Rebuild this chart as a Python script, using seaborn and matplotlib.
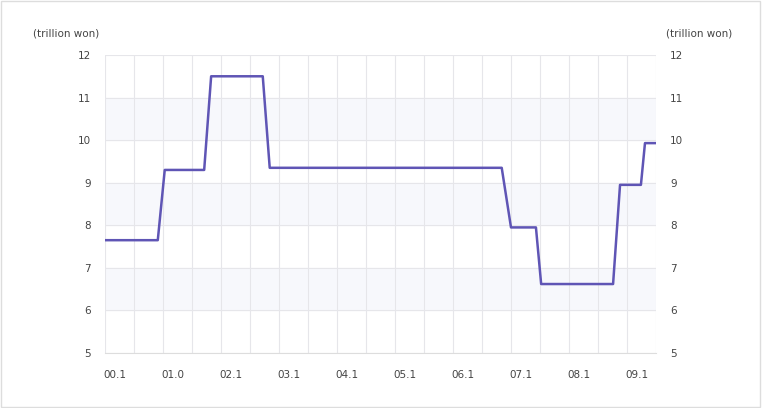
import matplotlib.pyplot as plt
import seaborn as sns
import pandas as pd

# Step series (x in years since 2000.1, y in trillion won)
years = [0.0, 0.91, 1.03, 1.71, 1.83, 2.72, 2.84, 6.84, 7.0, 7.43, 7.52, 8.76, 8.88, 9.24, 9.31, 9.5]
values = [7.65, 7.65, 9.3, 9.3, 11.5, 11.5, 9.35, 9.35, 7.95, 7.95, 6.62, 6.62, 8.95, 8.95, 9.93, 9.93]
tick_labels = ["00.1", "01.0", "02.1", "03.1", "04.1", "05.1", "06.1", "07.1", "08.1", "09.1"]

df = pd.DataFrame({"x": years, "y": values})

sns.set_style("white")
plt.rcParams['font.family'] = ['DejaVu Sans']
fig = plt.figure(figsize=(7.62, 4.08), dpi=100)
ax = fig.add_axes([105 / 762, 55 / 408, 551 / 762, 298 / 408])

for lo in (6, 8, 10):
    ax.axhspan(lo, lo + 1, color="#f7f8fc", zorder=0)
for y in range(5, 13):
    ax.axhline(y, color="#e6e6ea", lw=0.8, zorder=1)
for i in range(0, 20):
    ax.axvline(i * 0.5, color="#e6e6ea", lw=0.8, zorder=1)

sns.lineplot(data=df, x="x", y="y", ax=ax, color="#5f55b5", lw=1.8, zorder=3, sort=False)

ax.set_xlim(0, 9.5)
ax.set_ylim(5, 12)
ax.set_xticks([i + 0.17 for i in range(10)])
ax.set_xticklabels(tick_labels)
ax.set_yticks(range(5, 13))
ax.tick_params(axis="both", length=0, labelsize=7.5, colors="#444444")
ax.tick_params(axis="x", pad=12)
ax.tick_params(axis="y", labelright=True, pad=10)
ax.set_xlabel("")
ax.set_ylabel("")
for s in ax.spines.values():
    s.set_visible(False)
ax.spines["bottom"].set_visible(True)
ax.spines["bottom"].set_color("#dddddd")

fig.text(33 / 762, 1 - 34 / 408, "(trillion won)", fontsize=7.5, color="#444444", va="center")
fig.text(666 / 762, 1 - 34 / 408, "(trillion won)", fontsize=7.5, color="#444444", va="center")
fig.patches.append(plt.Rectangle((0.001, 0.002), 0.997, 0.995, transform=fig.transFigure,
                                 fill=False, ec="#dddddd", lw=1))
fig.savefig("out.png", dpi=100)
